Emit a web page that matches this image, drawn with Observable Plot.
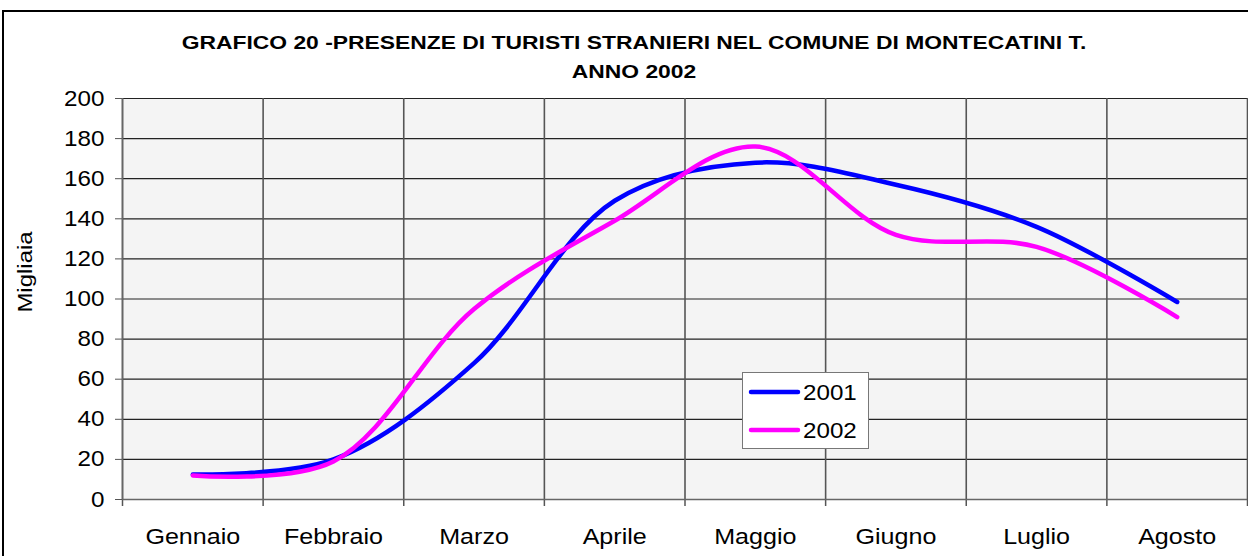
<!DOCTYPE html>
<html>
<head>
<meta charset="utf-8">
<script src="https://cdn.jsdelivr.net/npm/d3@7"></script>
<script src="https://cdn.jsdelivr.net/npm/@observablehq/plot@0.6"></script>
<style>
  html, body { margin: 0; padding: 0; background: #fff; overflow: hidden; }
  #wrap { position: relative; width: 1248px; height: 556px; font-family: "Liberation Sans", Arial, sans-serif; }
  #border { position: absolute; left: 2px; top: 10px; width: 1300px; height: 600px; border-left: 2px solid #000; border-top: 2px solid #000; box-sizing: border-box; }
  .title { position: absolute; left: 0; width: 1268px; text-align: center; font-weight: bold; font-size: 18px; color: #000; transform: scaleX(1.27); transform-origin: 634px 0; }
  #legend { position: absolute; left: 742px; top: 372px; width: 127px; height: 77px; background: #fff; border: 1px solid #777; box-sizing: border-box; }
  #chart { position: absolute; left: 0; top: 0; }
</style>
</head>
<body>
<div id="wrap">
  <div id="chart"></div>
  <div id="border"></div>
  <div class="title" style="top:33px">GRAFICO 20 -PRESENZE DI TURISTI STRANIERI NEL COMUNE DI MONTECATINI T.</div>
  <div class="title" style="top:62px">ANNO 2002</div>
  <div id="legend"></div>
</div>
<script>
const months = ["Gennaio", "Febbraio", "Marzo", "Aprile", "Maggio", "Giugno", "Luglio", "Agosto"];
const series2001 = [12.5, 20, 68, 149, 168, 157, 136, 98.5];
const series2002 = [12, 19, 95, 139, 176, 132, 126, 91];
const seriesNames = ["2001", "2002"];
const seriesColors = ["#0000ff", "#ff00ff"];
const yTicks = [0, 20, 40, 60, 80, 100, 120, 140, 160, 180, 200];
const yLabel = "Migliaia";

const rows = [];
months.forEach((m, i) => {
  rows.push({ pos: i + 0.5, month: m, value: series2001[i], serie: seriesNames[0] });
  rows.push({ pos: i + 0.5, month: m, value: series2002[i], serie: seriesNames[1] });
});
const bandEdges = d3.range(0, months.length + 1);
const centers = months.map((m, i) => i + 0.5);

const chart = Plot.plot({
  width: 1248,
  height: 556,
  marginLeft: 122,
  marginRight: 1,
  marginTop: 98,
  marginBottom: 57,
  style: { fontFamily: "Liberation Sans, Arial, sans-serif", fontSize: "22px", color: "#000", background: "transparent" },
  x: { type: "linear", domain: [0, months.length] },
  y: { domain: [0, 200] },
  color: { domain: seriesNames, range: seriesColors },
  marks: [
    Plot.frame({ fill: "#f4f4f4", stroke: null }),
    Plot.ruleY(yTicks, { stroke: "#222", strokeWidth: 1.2 }),
    Plot.ruleX(bandEdges, { stroke: "#555", strokeWidth: 1.6 }),
    Plot.axisX(bandEdges, { tickSize: 7, tickFormat: () => "", stroke: "#555", strokeWidth: 1.5, label: null }),
    Plot.axisX(centers, { tickSize: 0, tickPadding: 29, tickFormat: (d) => months[Math.floor(d)], fontSize: 22, label: null }),
    Plot.axisY(yTicks, { tickSize: 7, tickPadding: 11, fontSize: 22, stroke: "#555", label: null }),
    Plot.ruleY([0], { stroke: "#666", strokeWidth: 1.5 }),
    Plot.ruleX([0], { stroke: "#666", strokeWidth: 1.5 }),
    Plot.line(rows, { x: "pos", y: "value", z: "serie", stroke: "serie", strokeWidth: 4.5, curve: "catmull-rom", strokeLinecap: "round" })
  ]
});
document.getElementById("chart").appendChild(chart);

// reference text is rendered horizontally widened: stretch glyphs
function stretch(sel, k) {
  sel.each(function () {
    const len = this.getComputedTextLength();
    if (len > 0) {
      this.setAttribute("textLength", (len * k).toFixed(1));
      this.setAttribute("lengthAdjust", "spacingAndGlyphs");
    }
  });
}
const svg = d3.select(chart);
stretch(svg.selectAll('g[aria-label="x-axis tick label"] text'), 1.14);
stretch(svg.selectAll('g[aria-label="y-axis tick label"] text'), 1.1);
const ylab = svg.append("text")
  .attr("transform", "translate(25,272) rotate(-90)")
  .attr("text-anchor", "middle").attr("dy", "0.35em")
  .style("font-family", "Liberation Sans, Arial, sans-serif").style("font-size", "21px").attr("fill", "#000")
  .text(yLabel);
stretch(ylab, 1.14);

// legend
const lg = d3.select("#legend").append("svg").attr("width", 125).attr("height", 75);
seriesNames.forEach((s, i) => {
  const y = 19 + i * 38;
  lg.append("line").attr("x1", 8).attr("x2", 55).attr("y1", y).attr("y2", y)
    .attr("stroke", seriesColors[i]).attr("stroke-width", 4.5).attr("stroke-linecap", "round");
  lg.append("text").attr("x", 60).attr("y", y + 8).text(s)
    .style("font-family", "Liberation Sans, Arial, sans-serif").style("font-size", "22px").attr("fill", "#000");
});
stretch(lg.selectAll("text"), 1.1);
</script>
</body>
</html>
